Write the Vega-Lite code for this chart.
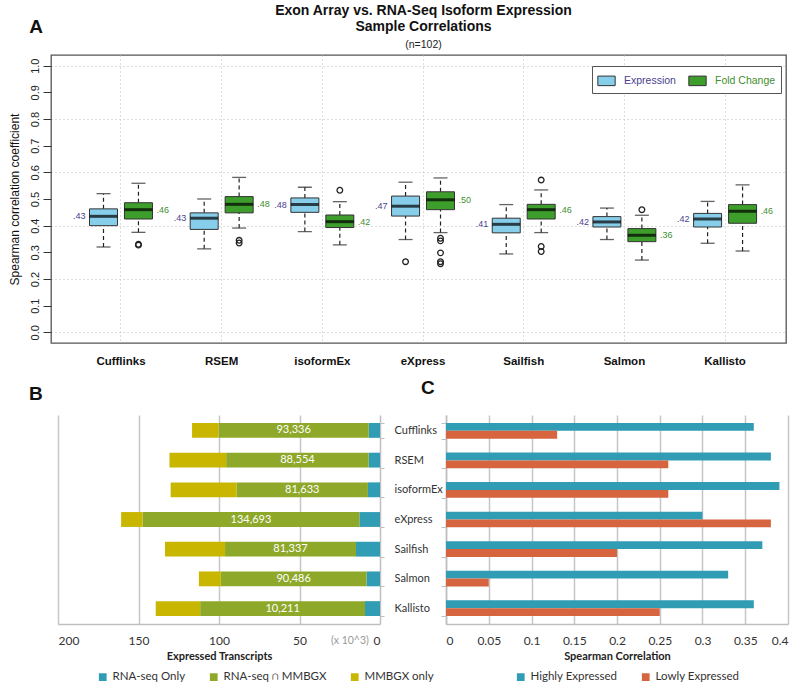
{
  "$schema": "https://vega.github.io/schema/vega-lite/v6.json",
  "padding": {"left": 7, "top": 2, "right": 5, "bottom": 0},
  "background": "white",
  "config": {
    "font": "Liberation Sans",
    "view": {"stroke": null},
    "axis": {"labelColor": "#222", "titleColor": "#222"}
  },
  "title": {"text": "A", "anchor": "start", "frame": "bounds", "dx": 22, "offset": -34, "fontSize": 19, "font": "Liberation Sans", "fontWeight": "bold", "color": "#111"},
  "datasets": {
    "boxes": [
      {"method": "Cufflinks", "type": "Expression", "lo": 0.32, "q1": 0.40, "med": 0.435, "q3": 0.463, "hi": 0.52, "label": ".43"},
      {"method": "Cufflinks", "type": "Fold Change", "lo": 0.375, "q1": 0.425, "med": 0.46, "q3": 0.486, "hi": 0.559, "label": ".46"},
      {"method": "RSEM", "type": "Expression", "lo": 0.313, "q1": 0.386, "med": 0.428, "q3": 0.448, "hi": 0.50, "label": ".43"},
      {"method": "RSEM", "type": "Fold Change", "lo": 0.391, "q1": 0.448, "med": 0.48, "q3": 0.509, "hi": 0.581, "label": ".48"},
      {"method": "isoformEx", "type": "Expression", "lo": 0.378, "q1": 0.45, "med": 0.479, "q3": 0.504, "hi": 0.544, "label": ".48"},
      {"method": "isoformEx", "type": "Fold Change", "lo": 0.328, "q1": 0.393, "med": 0.415, "q3": 0.44, "hi": 0.49, "label": ".42"},
      {"method": "eXpress", "type": "Expression", "lo": 0.348, "q1": 0.436, "med": 0.473, "q3": 0.511, "hi": 0.563, "label": ".47"},
      {"method": "eXpress", "type": "Fold Change", "lo": 0.374, "q1": 0.46, "med": 0.497, "q3": 0.527, "hi": 0.579, "label": ".50"},
      {"method": "Sailfish", "type": "Expression", "lo": 0.294, "q1": 0.373, "med": 0.405, "q3": 0.428, "hi": 0.479, "label": ".41"},
      {"method": "Sailfish", "type": "Fold Change", "lo": 0.374, "q1": 0.425, "med": 0.46, "q3": 0.48, "hi": 0.534, "label": ".46"},
      {"method": "Salmon", "type": "Expression", "lo": 0.348, "q1": 0.395, "med": 0.414, "q3": 0.434, "hi": 0.466, "label": ".42"},
      {"method": "Salmon", "type": "Fold Change", "lo": 0.271, "q1": 0.34, "med": 0.364, "q3": 0.389, "hi": 0.439, "label": ".36"},
      {"method": "Kallisto", "type": "Expression", "lo": 0.334, "q1": 0.395, "med": 0.425, "q3": 0.446, "hi": 0.491, "label": ".42"},
      {"method": "Kallisto", "type": "Fold Change", "lo": 0.305, "q1": 0.409, "med": 0.454, "q3": 0.479, "hi": 0.553, "label": ".46"}
    ],
    "outliers": [
      {"method": "Cufflinks", "type": "Fold Change", "v": 0.33},
      {"method": "Cufflinks", "type": "Fold Change", "v": 0.327},
      {"method": "RSEM", "type": "Fold Change", "v": 0.345},
      {"method": "RSEM", "type": "Fold Change", "v": 0.335},
      {"method": "isoformEx", "type": "Fold Change", "v": 0.533},
      {"method": "eXpress", "type": "Expression", "v": 0.265},
      {"method": "eXpress", "type": "Fold Change", "v": 0.353},
      {"method": "eXpress", "type": "Fold Change", "v": 0.343},
      {"method": "eXpress", "type": "Fold Change", "v": 0.298},
      {"method": "eXpress", "type": "Fold Change", "v": 0.265},
      {"method": "eXpress", "type": "Fold Change", "v": 0.257},
      {"method": "Sailfish", "type": "Fold Change", "v": 0.571},
      {"method": "Sailfish", "type": "Fold Change", "v": 0.322},
      {"method": "Sailfish", "type": "Fold Change", "v": 0.303},
      {"method": "Salmon", "type": "Fold Change", "v": 0.46}
    ],
    "transcripts": [
      {"method": "Cufflinks", "segment": "RNA-seq Only", "k": 1, "value": 7.0, "label": ""},
      {"method": "Cufflinks", "segment": "RNA-seq ∩ MMBGX", "k": 2, "value": 93.336, "label": "93,336"},
      {"method": "Cufflinks", "segment": "MMBGX only", "k": 3, "value": 16.4, "label": ""},
      {"method": "RSEM", "segment": "RNA-seq Only", "k": 1, "value": 7.0, "label": ""},
      {"method": "RSEM", "segment": "RNA-seq ∩ MMBGX", "k": 2, "value": 88.554, "label": "88,554"},
      {"method": "RSEM", "segment": "MMBGX only", "k": 3, "value": 35.2, "label": ""},
      {"method": "isoformEx", "segment": "RNA-seq Only", "k": 1, "value": 7.5, "label": ""},
      {"method": "isoformEx", "segment": "RNA-seq ∩ MMBGX", "k": 2, "value": 81.633, "label": "81,633"},
      {"method": "isoformEx", "segment": "MMBGX only", "k": 3, "value": 40.9, "label": ""},
      {"method": "eXpress", "segment": "RNA-seq Only", "k": 1, "value": 12.8, "label": ""},
      {"method": "eXpress", "segment": "RNA-seq ∩ MMBGX", "k": 2, "value": 134.693, "label": "134,693"},
      {"method": "eXpress", "segment": "MMBGX only", "k": 3, "value": 13.3, "label": ""},
      {"method": "Sailfish", "segment": "RNA-seq Only", "k": 1, "value": 14.9, "label": ""},
      {"method": "Sailfish", "segment": "RNA-seq ∩ MMBGX", "k": 2, "value": 81.337, "label": "81,337"},
      {"method": "Sailfish", "segment": "MMBGX only", "k": 3, "value": 37.3, "label": ""},
      {"method": "Salmon", "segment": "RNA-seq Only", "k": 1, "value": 8.4, "label": ""},
      {"method": "Salmon", "segment": "RNA-seq ∩ MMBGX", "k": 2, "value": 90.486, "label": "90,486"},
      {"method": "Salmon", "segment": "MMBGX only", "k": 3, "value": 13.6, "label": ""},
      {"method": "Kallisto", "segment": "RNA-seq Only", "k": 1, "value": 9.3, "label": ""},
      {"method": "Kallisto", "segment": "RNA-seq ∩ MMBGX", "k": 2, "value": 102.4, "label": "10,211"},
      {"method": "Kallisto", "segment": "MMBGX only", "k": 3, "value": 27.6, "label": ""}
    ],
    "spearman": [
      {"method": "Cufflinks", "series": "Highly Expressed", "value": 0.36},
      {"method": "Cufflinks", "series": "Lowly Expressed", "value": 0.13},
      {"method": "RSEM", "series": "Highly Expressed", "value": 0.38},
      {"method": "RSEM", "series": "Lowly Expressed", "value": 0.26},
      {"method": "isoformEx", "series": "Highly Expressed", "value": 0.39},
      {"method": "isoformEx", "series": "Lowly Expressed", "value": 0.26},
      {"method": "eXpress", "series": "Highly Expressed", "value": 0.30},
      {"method": "eXpress", "series": "Lowly Expressed", "value": 0.38},
      {"method": "Sailfish", "series": "Highly Expressed", "value": 0.37},
      {"method": "Sailfish", "series": "Lowly Expressed", "value": 0.20},
      {"method": "Salmon", "series": "Highly Expressed", "value": 0.33},
      {"method": "Salmon", "series": "Lowly Expressed", "value": 0.05},
      {"method": "Kallisto", "series": "Highly Expressed", "value": 0.36},
      {"method": "Kallisto", "series": "Lowly Expressed", "value": 0.25}
    ]
  },
  "bounds": "flush",
  "spacing": 72,
  "resolve": {"scale": {"color": "independent", "fill": "independent", "x": "independent", "y": "independent"}},
  "vconcat": [
    {
      "width": 735,
      "height": 288,
      "view": {"stroke": "#555", "strokeWidth": 1.3},
      "title": {
        "text": ["Exon Array vs. RNA-Seq Isoform Expression", "Sample Correlations"],
        "subtitle": "(n=102)",
        "anchor": "middle", "frame": "group", "dx": 5, "offset": 5,
        "font": "Liberation Sans", "fontSize": 14, "fontWeight": "bold", "lineHeight": 16, "color": "#111",
        "subtitleFont": "Liberation Sans", "subtitleFontSize": 10.5, "subtitlePadding": 6, "subtitleColor": "#222"
      },
      "data": {"name": "boxes"},
      "encoding": {
        "x": {
          "field": "method", "type": "nominal", "title": null,
          "scale": {"domain": ["Cufflinks", "RSEM", "isoformEx", "eXpress", "Sailfish", "Salmon", "Kallisto"], "paddingInner": 0, "paddingOuter": 0.15, "align": 0.65},
          "axis": {"orient": "bottom", "domain": false, "ticks": false, "labelAngle": 0, "labelFont": "Liberation Sans", "labelFontWeight": "bold", "labelFontSize": 11.5, "labelColor": "#111", "labelPadding": 12, "grid": true, "bandPosition": 0.5, "gridDash": [1, 3], "gridColor": "#bbb", "gridWidth": 1}
        },
        "xOffset": {"field": "type", "type": "nominal", "scale": {"domain": ["Expression", "Fold Change"], "paddingInner": 0, "paddingOuter": 0.44}}
      },
      "layer": [
        {
          "mark": {"type": "rule", "strokeDash": [4, 3], "color": "#222", "strokeWidth": 1.2},
          "encoding": {
            "y": {"field": "lo", "type": "quantitative", "title": "Spearman correlation coefficient",
              "scale": {"domain": [-0.04, 1.04], "nice": false, "zero": false},
              "axis": {"values": [0, 0.1, 0.2, 0.3, 0.4, 0.5, 0.6, 0.7, 0.8, 0.9, 1.0], "tickCount": 11, "format": ".1f", "labelAngle": -90, "labelOverlap": false, "labelSeparation": 0, "labelFontSize": 11, "labelColor": "#222", "tickSize": 8, "tickColor": "#333", "tickWidth": 1, "domain": false, "labelPadding": 3, "titleFontSize": 12, "titleFontWeight": "normal", "titlePadding": 8, "titleColor": "#111",
                "grid": true, "gridDash": [1, 3], "gridWidth": 1,
                "gridColor": {"condition": {"test": "round(datum.value * 10) % 2 === 0", "value": "#bbb"}, "value": "rgba(0,0,0,0)"}}},
            "y2": {"field": "q1"}
          }
        },
        {
          "mark": {"type": "rule", "strokeDash": [4, 3], "color": "#222", "strokeWidth": 1.2},
          "encoding": {
            "y": {"field": "q3", "type": "quantitative", "title": "Spearman correlation coefficient"},
            "y2": {"field": "hi"}
          }
        },
        {
          "mark": {"type": "tick", "size": 14, "thickness": 1.3, "color": "#222"},
          "encoding": {"y": {"field": "lo", "type": "quantitative", "title": "Spearman correlation coefficient"}}
        },
        {
          "mark": {"type": "tick", "size": 14, "thickness": 1.3, "color": "#222"},
          "encoding": {"y": {"field": "hi", "type": "quantitative", "title": "Spearman correlation coefficient"}}
        },
        {
          "mark": {"type": "bar", "width": 28, "stroke": "#333", "strokeWidth": 1},
          "encoding": {
            "y": {"field": "q1", "type": "quantitative", "title": "Spearman correlation coefficient"},
            "y2": {"field": "q3"},
            "fill": {
              "field": "type", "type": "nominal",
              "scale": {"domain": ["Expression", "Fold Change"], "range": ["#87ceeb", "#3e9e2c"]},
              "legend": {
                "title": null, "orient": "none", "legendX": 541, "legendY": 11, "direction": "horizontal",
                "strokeColor": "#555", "fillColor": "white", "padding": 5,
                "symbolType": "M-1,-0.55H1V0.55H-1Z", "symbolSize": 300, "symbolStrokeColor": "#333", "symbolStrokeWidth": 1, "symbolOpacity": 1,
                "labelFontSize": 10.5, "labelFont": "Liberation Sans", "columnPadding": 10, "labelOffset": 8,
                "encode": {"labels": {"update": {"fill": {"signal": "datum.label === 'Expression' ? '#4a3f8f' : '#3f8f2f'"}}}}
              }
            }
          }
        },
        {
          "mark": {"type": "tick", "size": 28, "thickness": 3, "color": "#000"},
          "encoding": {"y": {"field": "med", "type": "quantitative", "title": "Spearman correlation coefficient"}}
        },
        {
          "transform": [{"filter": "datum.type === 'Expression'"}],
          "mark": {"type": "text", "align": "right", "dx": -18, "fontSize": 9, "color": "#4a3f8f"},
          "encoding": {"y": {"field": "med", "type": "quantitative", "title": "Spearman correlation coefficient"}, "text": {"field": "label"}}
        },
        {
          "transform": [{"filter": "datum.type === 'Fold Change'"}],
          "mark": {"type": "text", "align": "left", "dx": 18, "fontSize": 9, "color": "#3f8f2f"},
          "encoding": {"y": {"field": "med", "type": "quantitative", "title": "Spearman correlation coefficient"}, "text": {"field": "label"}}
        },
        {
          "data": {"name": "outliers"},
          "mark": {"type": "point", "shape": "circle", "filled": false, "size": 32, "strokeWidth": 1.3, "color": "#222", "opacity": 1},
          "encoding": {"y": {"field": "v", "type": "quantitative", "title": "Spearman correlation coefficient"}}
        }
      ]
    },
    {
      "bounds": "flush",
      "spacing": 66,
      "resolve": {"scale": {"color": "independent", "x": "independent", "y": "independent"}},
      "hconcat": [
        {
          "width": 329,
          "height": 209,
          "title": {"text": "B", "anchor": "start", "frame": "group", "dx": -22, "offset": 11, "fontSize": 19, "font": "Liberation Sans", "fontWeight": "bold", "color": "#111"},
          "data": {"name": "transcripts"},
          "encoding": {
            "y": {
              "field": "method", "type": "nominal", "title": null,
              "scale": {"domain": ["Cufflinks", "RSEM", "isoformEx", "eXpress", "Sailfish", "Salmon", "Kallisto"], "paddingInner": 0.5, "paddingOuter": 0.27},
              "axis": {"orient": "right", "labels": false, "tickBand": "extent", "tickSize": 4, "tickColor": "#bfbfbf", "domainColor": "#bfbfbf", "domainWidth": 1.5, "grid": false}
            }
          },
          "layer": [
            {
              "mark": {"type": "bar"},
              "encoding": {
                "x": {
                  "field": "value", "type": "quantitative", "stack": "zero",
                  "scale": {"domain": [0, 200], "range": [329, 7], "nice": false},
                  "axis": {
                    "orient": "bottom", "values": [0, 19, 50, 100, 150, 200],
                    "labelExpr": "datum.value === 19 ? '(x 10^3)' : datum.label",
                    "labelColor": {"condition": {"test": "datum.value === 19", "value": "#999"}, "value": "#333"},
                    "labelFontSize": {"condition": {"test": "datum.value === 19", "value": 10.5}, "value": 12},
                    "labelFont": "Lato",
                    "grid": true, "gridWidth": 1.5,
                    "gridColor": {"condition": {"test": "datum.value === 19 || datum.value === 0", "value": "rgba(0,0,0,0)"}, "value": "#c6c6c6"},
                    "ticks": false, "domainColor": "#bfbfbf", "domainWidth": 1.5, "labelPadding": 11,
                    "title": "Expressed Transcripts", "titleFont": "Lato", "titleFontSize": 11, "titleFontWeight": "bold", "titleColor": "#222", "titlePadding": 4
                  }
                },
                "color": {
                  "field": "segment", "type": "nominal",
                  "scale": {"domain": ["RNA-seq Only", "RNA-seq ∩ MMBGX", "MMBGX only"], "range": ["#319db5", "#8ea829", "#c9b600"]},
                  "legend": {"title": null, "orient": "none", "legendX": 46, "legendY": 256, "direction": "horizontal", "symbolType": "square", "symbolSize": 60, "symbolOpacity": 1, "labelFont": "Lato", "labelFontSize": 11.5, "labelColor": "#333", "columnPadding": 22, "labelOffset": 4}
                },
                "order": {"field": "k", "type": "quantitative"}
              }
            },
            {
              "transform": [
                {"stack": "value", "groupby": ["method"], "sort": [{"field": "k", "order": "ascending"}], "as": ["v0", "v1"]},
                {"filter": "datum.k === 2"},
                {"calculate": "(datum.v0 + datum.v1) / 2", "as": "mid"}
              ],
              "mark": {"type": "text", "color": "white", "fontSize": 11, "font": "Lato", "baseline": "middle"},
              "encoding": {
                "x": {"field": "mid", "type": "quantitative"},
                "text": {"field": "label"}
              }
            }
          ]
        },
        {
          "width": 342,
          "height": 209,
          "title": {"text": "C", "anchor": "start", "frame": "group", "dx": -25, "offset": 11, "fontSize": 19, "font": "Liberation Sans", "fontWeight": "bold", "color": "#111"},
          "data": {"name": "spearman"},
          "mark": {"type": "bar"},
          "encoding": {
            "y": {
              "field": "method", "type": "nominal", "title": null,
              "scale": {"domain": ["Cufflinks", "RSEM", "isoformEx", "eXpress", "Sailfish", "Salmon", "Kallisto"], "paddingInner": 0.47, "paddingOuter": 0.27},
              "axis": {"orient": "left", "tickBand": "extent", "tickSize": 5, "tickColor": "#bfbfbf", "domainColor": "#bfbfbf", "domainWidth": 1.5, "labelAlign": "left", "labelPadding": 47, "labelFont": "Lato", "labelFontSize": 11, "labelColor": "#333"}
            },
            "yOffset": {"field": "series", "type": "nominal", "scale": {"domain": ["Highly Expressed", "Lowly Expressed"]}},
            "x": {
              "field": "value", "type": "quantitative",
              "scale": {"domain": [0, 0.4], "nice": false},
              "axis": {"values": [0, 0.05, 0.1, 0.15, 0.2, 0.25, 0.3, 0.35, 0.4], "format": "~g", "grid": true, "gridColor": "#c6c6c6", "gridWidth": 1.5, "ticks": false, "domainColor": "#bfbfbf", "domainWidth": 1.5, "labelFont": "Lato", "labelFontSize": 12, "labelColor": "#333", "labelPadding": 11, "title": "Spearman Correlation", "titleFont": "Lato", "titleFontSize": 11, "titleFontWeight": "bold", "titleColor": "#222", "titlePadding": 4}
            },
            "color": {
              "field": "series", "type": "nominal",
              "scale": {"domain": ["Highly Expressed", "Lowly Expressed"], "range": ["#319db5", "#d6643f"]},
              "legend": {"title": null, "orient": "none", "legendX": 69, "legendY": 256, "direction": "horizontal", "symbolType": "square", "symbolSize": 60, "symbolOpacity": 1, "labelFont": "Lato", "labelFontSize": 11.5, "labelColor": "#333", "columnPadding": 22, "labelOffset": 4}
            }
          }
        }
      ]
    }
  ]
}
